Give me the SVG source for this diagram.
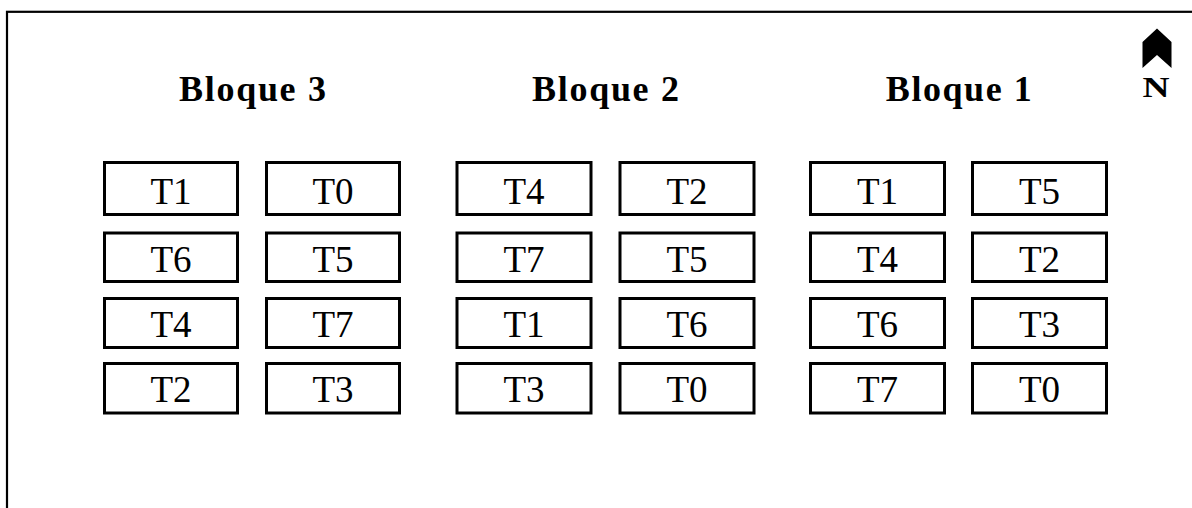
<svg xmlns="http://www.w3.org/2000/svg" width="1192" height="508" viewBox="0 0 1192 508">
<style>
.box{fill:#fff;stroke:#000;stroke-width:3}
.lbl{font-family:"Liberation Serif","Times New Roman",serif;font-size:37px;text-anchor:middle;fill:#000}
.ttl{font-family:"Liberation Serif","Times New Roman",serif;font-size:36px;font-weight:bold;text-anchor:middle;fill:#000}
</style>
<rect x="0" y="0" width="1192" height="508" fill="#fff"/>
<rect id="frame" x="7" y="11.8" width="1200" height="520" fill="none" stroke="#000" stroke-width="2.2"/>
<g id="north">
<polygon points="1157,28.5 1171.5,42 1171.5,68 1157,55 1142.5,68 1142.5,42" fill="#000"/>
<text x="1156" y="97" class="ttl" style="font-size:29px" textLength="27" lengthAdjust="spacingAndGlyphs">N</text>
</g>
<g id="titles">
<text id="t-bloque3" x="252.5" y="100.5" class="ttl" textLength="147" lengthAdjust="spacing">Bloque 3</text>
<text id="t-bloque2" x="605.5" y="100.5" class="ttl" textLength="147" lengthAdjust="spacing">Bloque 2</text>
<text id="t-bloque1" x="958.8" y="100.5" class="ttl" textLength="146" lengthAdjust="spacing">Bloque 1</text>
</g>
<g id="connectors"></g>
<!-- Bloque 3 -->
<g id="b3-r1c1"><rect class="box" x="104.5" y="162.5" width="133" height="52"/><text class="lbl" x="171" y="204.3">T1</text></g>
<g id="b3-r1c2"><rect class="box" x="266.5" y="162.5" width="133" height="52"/><text class="lbl" x="333" y="204.3">T0</text></g>
<g id="b3-r2c1"><rect class="box" x="104.5" y="233" width="133" height="48.5"/><text class="lbl" x="171" y="271.7">T6</text></g>
<g id="b3-r2c2"><rect class="box" x="266.5" y="233" width="133" height="48.5"/><text class="lbl" x="333" y="271.7">T5</text></g>
<g id="b3-r3c1"><rect class="box" x="104.5" y="298.5" width="133" height="49"/><text class="lbl" x="171" y="336.7">T4</text></g>
<g id="b3-r3c2"><rect class="box" x="266.5" y="298.5" width="133" height="49"/><text class="lbl" x="333" y="336.7">T7</text></g>
<g id="b3-r4c1"><rect class="box" x="104.5" y="363.5" width="133" height="49.5"/><text class="lbl" x="171" y="402.3">T2</text></g>
<g id="b3-r4c2"><rect class="box" x="266.5" y="363.5" width="133" height="49.5"/><text class="lbl" x="333" y="402.3">T3</text></g>
<!-- Bloque 2 -->
<g id="b2-r1c1"><rect class="box" x="457" y="162.5" width="134" height="52"/><text class="lbl" x="524" y="204.3">T4</text></g>
<g id="b2-r1c2"><rect class="box" x="620" y="162.5" width="134" height="52"/><text class="lbl" x="687" y="204.3">T2</text></g>
<g id="b2-r2c1"><rect class="box" x="457" y="233" width="134" height="48.5"/><text class="lbl" x="524" y="271.7">T7</text></g>
<g id="b2-r2c2"><rect class="box" x="620" y="233" width="134" height="48.5"/><text class="lbl" x="687" y="271.7">T5</text></g>
<g id="b2-r3c1"><rect class="box" x="457" y="298.5" width="134" height="49"/><text class="lbl" x="524" y="336.7">T1</text></g>
<g id="b2-r3c2"><rect class="box" x="620" y="298.5" width="134" height="49"/><text class="lbl" x="687" y="336.7">T6</text></g>
<g id="b2-r4c1"><rect class="box" x="457" y="363.5" width="134" height="49.5"/><text class="lbl" x="524" y="402.3">T3</text></g>
<g id="b2-r4c2"><rect class="box" x="620" y="363.5" width="134" height="49.5"/><text class="lbl" x="687" y="402.3">T0</text></g>
<!-- Bloque 1 -->
<g id="b1-r1c1"><rect class="box" x="810.5" y="162.5" width="134" height="52"/><text class="lbl" x="877.5" y="204.3">T1</text></g>
<g id="b1-r1c2"><rect class="box" x="972.5" y="162.5" width="134" height="52"/><text class="lbl" x="1039.5" y="204.3">T5</text></g>
<g id="b1-r2c1"><rect class="box" x="810.5" y="233" width="134" height="48.5"/><text class="lbl" x="877.5" y="271.7">T4</text></g>
<g id="b1-r2c2"><rect class="box" x="972.5" y="233" width="134" height="48.5"/><text class="lbl" x="1039.5" y="271.7">T2</text></g>
<g id="b1-r3c1"><rect class="box" x="810.5" y="298.5" width="134" height="49"/><text class="lbl" x="877.5" y="336.7">T6</text></g>
<g id="b1-r3c2"><rect class="box" x="972.5" y="298.5" width="134" height="49"/><text class="lbl" x="1039.5" y="336.7">T3</text></g>
<g id="b1-r4c1"><rect class="box" x="810.5" y="363.5" width="134" height="49.5"/><text class="lbl" x="877.5" y="402.3">T7</text></g>
<g id="b1-r4c2"><rect class="box" x="972.5" y="363.5" width="134" height="49.5"/><text class="lbl" x="1039.5" y="402.3">T0</text></g>
</svg>
